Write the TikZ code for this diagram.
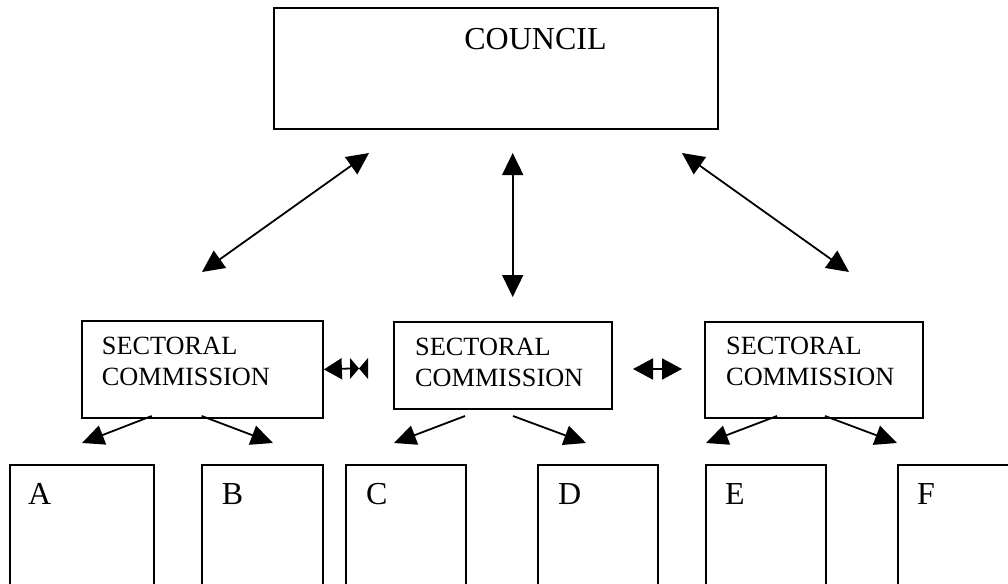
\documentclass[tikz,border=0pt]{standalone}
\usepackage{fontspec}
\setmainfont{Liberation Serif}
\usetikzlibrary{arrows.meta}
\begin{document}
\begin{tikzpicture}[x=1pt,y=-1pt,
  box/.style={draw,line width=1.9pt,inner sep=0pt,anchor=north west},
  conn/.style={line width=1.8pt,{Triangle[length=22pt,width=21pt]}-{Triangle[length=22pt,width=21pt]}},
  sub/.style={line width=1.8pt,-{Triangle[length=22pt,width=20pt]}},
  side/.style={line width=1.8pt,{Triangle[length=20pt,width=21pt]}-{Triangle[length=20pt,width=21pt]}},
  lbl/.style={anchor=base west,inner sep=0pt,font=\fontsize{32}{36}\selectfont},
  sec/.style={anchor=base west,inner sep=0pt,align=left,font=\fontsize{26.3}{30.5}\selectfont}]
\useasboundingbox (0,0) rectangle (1008,583);
\clip (0,0) rectangle (1008,583);
% boxes
\node[box,line width=2.3pt,minimum width=444pt,minimum height=121pt] (council) at (273,7) {};
\node[box,minimum width=241.3pt,minimum height=97pt] (secL) at (80.7,320) {};
\node[box,minimum width=218.3pt,minimum height=87.3pt] (secM) at (392.7,320.7) {};
\node[box,minimum width=217.7pt,minimum height=96pt] (secR) at (704,320.7) {};
\node[box,minimum width=144pt,minimum height=140pt] (bA) at (9,464) {};
\node[box,minimum width=120.7pt,minimum height=140pt] (bB) at (201,464) {};
\node[box,minimum width=120pt,minimum height=140pt] (bC) at (345,464) {};
\node[box,minimum width=120pt,minimum height=140pt] (bD) at (537,464) {};
\node[box,minimum width=120pt,minimum height=140pt] (bE) at (705,464) {};
\node[box,minimum width=150pt,minimum height=140pt] (bF) at (897,464) {};
% texts
\node[anchor=base,inner sep=0pt,font=\fontsize{32}{38}\selectfont] (tcouncil) at (535.5,50) {COUNCIL};
\node[sec] (tsecL) at (101.7,385) {SECTORAL\\COMMISSION};
\node[sec] (tsecM) at (415,386) {SECTORAL\\COMMISSION};
\node[sec] (tsecR) at (726,385) {SECTORAL\\COMMISSION};
\node[lbl] (tA) at (28,504) {A};
\node[lbl] (tB) at (221.7,504) {B};
\node[lbl] (tC) at (366,504) {C};
\node[lbl] (tD) at (558,504) {D};
\node[lbl] (tE) at (725,504) {E};
\node[lbl] (tF) at (917,504) {F};
% council arrows
\coordinate (l1) at (369,153); \coordinate (l2) at (202,272);
\coordinate (m1) at (512.7,153); \coordinate (m2) at (512.7,297);
\coordinate (r1) at (682,153); \coordinate (r2) at (849,272);
\draw[conn] (l1) -- (l2);
\draw[conn] (m1) -- (m2);
\draw[conn] (r1) -- (r2);
% sub arrows
\coordinate (sa1) at (151.7,416); \coordinate (ta1) at (82,443);
\coordinate (sa2) at (201.7,416); \coordinate (ta2) at (273,443);
\coordinate (sb1) at (465,416); \coordinate (tb1) at (394,443);
\coordinate (sb2) at (513,416); \coordinate (tb2) at (586,443);
\coordinate (sc1) at (777,416); \coordinate (tc1) at (706,443);
\coordinate (sc2) at (825,416); \coordinate (tc2) at (897,443);
\draw[sub] (sa1) -- (ta1);
\draw[sub] (sa2) -- (ta2);
\draw[sub] (sb1) -- (tb1);
\draw[sub] (sb2) -- (tb2);
\draw[sub] (sc1) -- (tc1);
\draw[sub] (sc2) -- (tc2);
% side arrows
\coordinate (bt) at (350,368.5);
\draw[line width=1.8pt,-{Triangle[length=18pt,width=21pt]}] (bt) -- (secL.east);
\fill (350,358) -- (368,379) -- (368,358) -- (350,379) -- cycle;
\coordinate (h1) at (633,369); \coordinate (h2) at (682,369);
\draw[side] (h1) -- (h2);
\end{tikzpicture}
\end{document}
